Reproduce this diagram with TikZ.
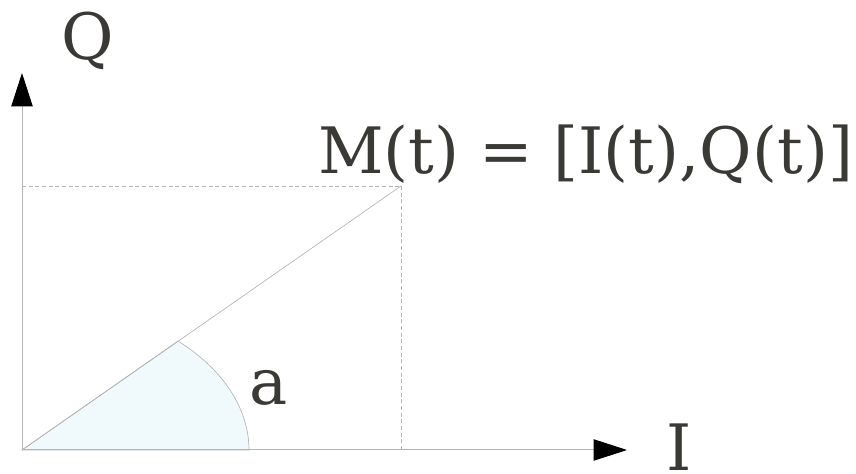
\documentclass[tikz,border=0pt]{standalone}
\usepackage{fontspec}
\setmainfont{DejaVu Serif}
\usetikzlibrary{arrows.meta}
\definecolor{textgray}{HTML}{3A3935}
\definecolor{linegray}{HTML}{B4B4B4}
\definecolor{sectorfill}{HTML}{F0FAFD}
\tikzset{
    axis/.style = {
        draw=linegray, line width=0.75pt,
        -{Triangle[length=25pt, width=16pt, color=black]}
    },
    guide/.style = {
        draw=linegray, line width=0.5pt,
        dash pattern=on 3pt off 2pt
    },
    vector/.style = {
        draw=linegray, line width=0.5pt
    },
    sector/.style = {
        fill=sectorfill, draw=linegray, line width=0.5pt
    },
    bigtext/.style = {
        text=textgray, inner sep=0pt,
        font=\fontsize{48}{52}\selectfont
    }
}

\begin{document}
\begin{tikzpicture}[x=0.75pt, y=0.75pt]
\useasboundingbox (0,0) rectangle (856,474);

% points
\coordinate (O) at (22,24);
\coordinate (M) at (401,288);
\coordinate (Mq) at (22,288);
\coordinate (Mi) at (401,24);
\coordinate (qend) at (22,401);
\coordinate (iend) at (627,24);
\coordinate (arcstart) at (249,24);

% angle sector
\draw[sector] (O) -- (arcstart) arc[start angle=0, end angle=46.6, x radius=227, y radius=150] -- cycle;

% projections
\draw[guide] (Mq) -- (M);
\draw[guide] (M) -- (Mi);
\draw[vector] (O) -- (M);

% axes
\draw[axis] (O) -- (qend);
\draw[axis] (O) -- (iend);

% labels
\node (qlabel) [bigtext, anchor=base] at (88,414) {Q};
\node (ilabel) [bigtext, anchor=base] at (679,3) {I};
\node (alabel) [bigtext, anchor=base] at (269,69) {a};
\node (mlabel) [bigtext, anchor=base west] at (318,300) {M(t) = [I(t),Q(t)]};

\end{tikzpicture}
\end{document}
